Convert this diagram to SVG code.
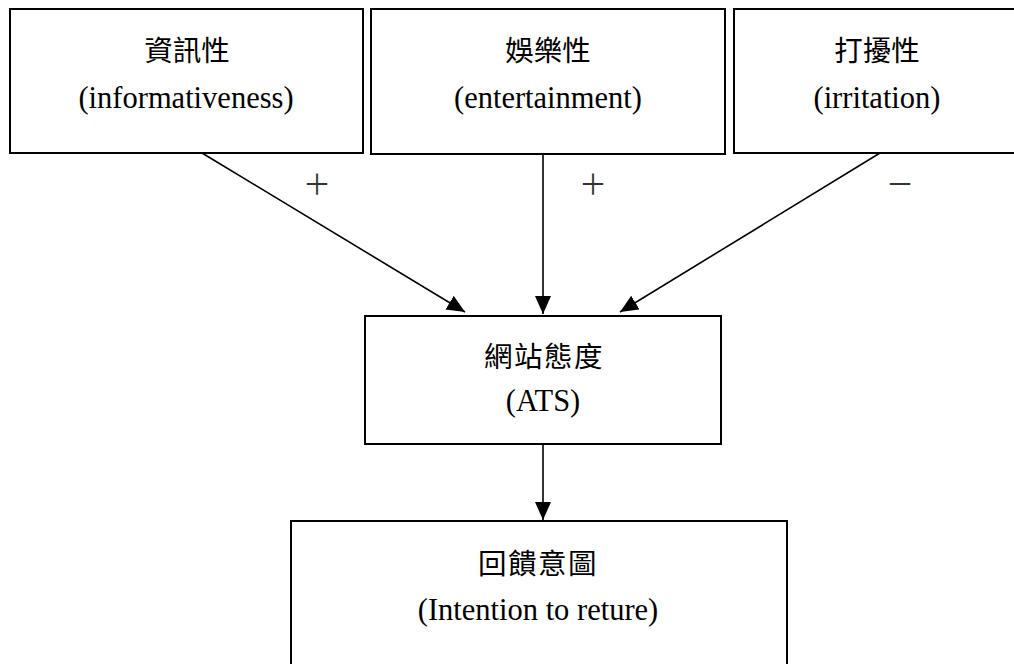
<svg xmlns="http://www.w3.org/2000/svg" width="1014" height="664" viewBox="0 0 1014 664">
<style>
.box{fill:#fff;stroke:#000;stroke-width:2}
.zh{font-family:"Liberation Serif","Noto Sans CJK TC",serif;font-size:28.5px;text-anchor:middle;fill:#000}
.en{font-family:"Liberation Serif","Noto Sans CJK TC",serif;font-size:30.5px;text-anchor:middle;fill:#000}
.sign{font-family:"Noto Sans CJK TC",sans-serif;font-size:28px;text-anchor:middle;fill:#333}
.edge{stroke:#000;stroke-width:1.6;fill:none;marker-end:url(#arr)}
</style>
<defs>
<marker id="arr" markerUnits="userSpaceOnUse" markerWidth="18" markerHeight="16" viewBox="0 0 18 16" refX="18" refY="8" orient="auto">
<path d="M0,0 L18,8 L0,16 Z" fill="#000"/>
</marker>
</defs>
<rect width="1014" height="664" fill="#fff"/>
<g id="node-informativeness">
<rect class="box" x="10" y="9" width="353" height="144"/>
<text class="zh" x="187" y="61">資訊性</text>
<text class="en" x="186" y="108">(informativeness)</text>
</g>
<g id="node-entertainment">
<rect class="box" x="371" y="9" width="354" height="145"/>
<text class="zh" x="548" y="61">娛樂性</text>
<text class="en" x="548" y="108">(entertainment)</text>
</g>
<g id="node-irritation">
<rect class="box" x="734" y="9" width="290" height="144"/>
<text class="zh" x="877" y="61">打擾性</text>
<text class="en" x="877" y="108">(irritation)</text>
</g>
<g id="node-ats">
<rect class="box" x="365" y="316" width="356" height="128"/>
<text class="zh" x="544" y="367" letter-spacing="1.5">網站態度</text>
<text class="en" x="543" y="411">(ATS)</text>
</g>
<g id="node-intention">
<rect class="box" x="291" y="521" width="496" height="160"/>
<text class="zh" x="538" y="574" letter-spacing="1.5">回饋意圖</text>
<text class="en" x="538" y="620">(Intention to reture)</text>
</g>
<g id="connectors">
<line class="edge" x1="202" y1="153" x2="465" y2="312"/>
<line class="edge" x1="543" y1="154" x2="543" y2="314"/>
<line class="edge" x1="880" y1="153" x2="620" y2="312"/>
<line class="edge" x1="543" y1="444" x2="543" y2="520"/>
</g>
<g id="labels">
<text class="sign" x="317" y="195">＋</text>
<text class="sign" x="593" y="195">＋</text>
<text class="sign" x="900" y="195">－</text>
</g>
</svg>
